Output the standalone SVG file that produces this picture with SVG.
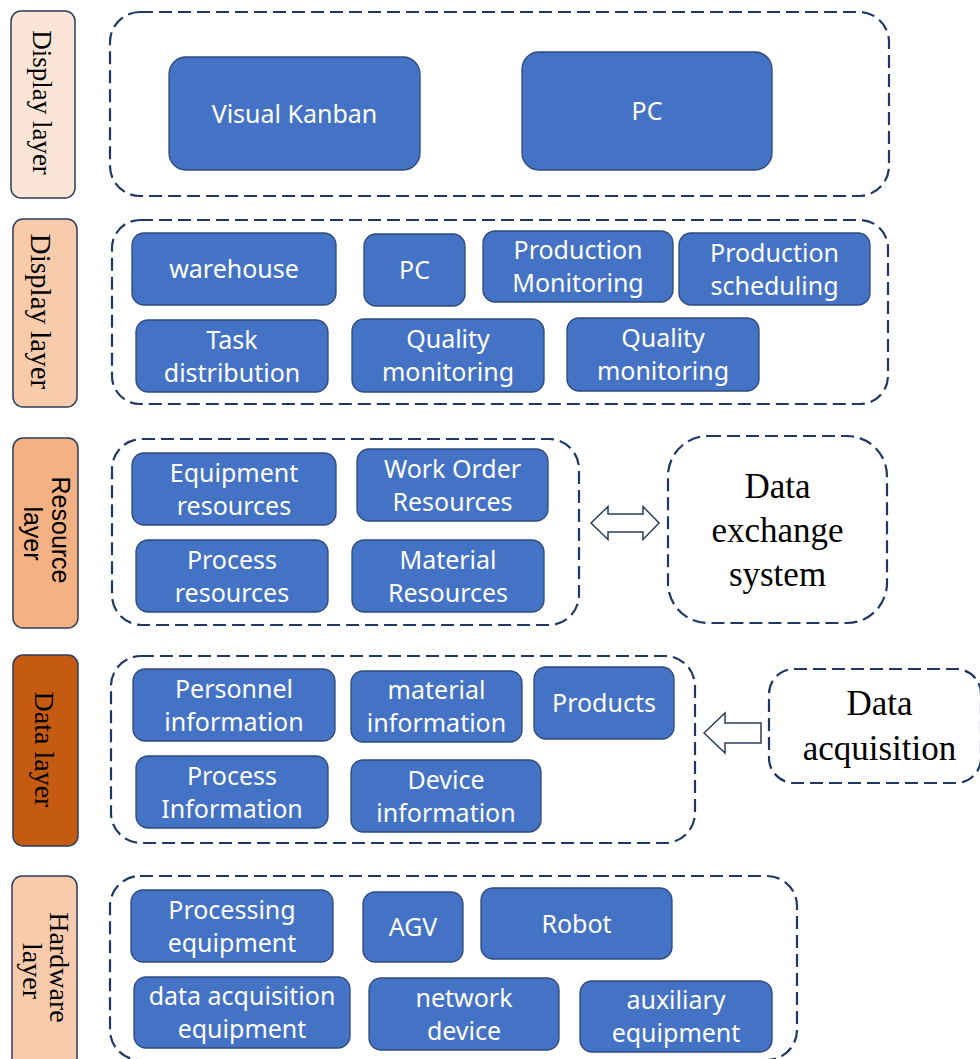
<svg xmlns="http://www.w3.org/2000/svg" width="980" height="1059" viewBox="0 0 980 1059">
  <style>
    .layer { stroke: #2E3D5A; stroke-width: 1.5; }
    .lbl { font-family: "Liberation Serif", serif; fill: #000; text-anchor: middle; }
    .lbl-sans { font-family: "Liberation Sans", sans-serif; fill: #000; text-anchor: middle; }
    .group { fill: #fff; stroke: #203864; stroke-width: 2.2; stroke-dasharray: 13 6; }
    .node rect { fill: #4472C4; stroke: #2F4A7A; stroke-width: 1.3; }
    .node text { font-family: "Noto Sans", "Open Sans", sans-serif; font-size: 25px; fill: #fff; text-anchor: middle; }
    .big { font-family: "Liberation Serif", serif; font-size: 35px; fill: #000; text-anchor: middle; }
    .hollow { fill: #fff; stroke: #2E3D5A; stroke-width: 1.5; stroke-linejoin: miter; }
  </style>

  <!-- layer labels on the left -->
  <g id="label-display-1">
    <rect class="layer" x="11" y="11" width="64" height="187" rx="10" fill="#FBE5D6"/>
    <text class="lbl" font-size="27" transform="translate(43,102.5) rotate(90)" x="0" y="10">Display layer</text>
  </g>
  <g id="label-display-2">
    <rect class="layer" x="13" y="219" width="64" height="188" rx="10" fill="#F8CBAD"/>
    <text class="lbl" font-size="29" transform="translate(45,311.5) rotate(90)" x="0" y="14">Display layer</text>
  </g>
  <g id="label-resource">
    <rect class="layer" x="13" y="438" width="65" height="190" rx="10" fill="#F4B183"/>
    <text class="lbl-sans" font-size="25" transform="translate(45.5,533.5) rotate(90)">
      <tspan x="0" y="-6.5">Resource</tspan>
      <tspan x="0" y="21.5">layer</tspan>
    </text>
  </g>
  <g id="label-data">
    <rect class="layer" x="13" y="655" width="65" height="191" rx="10" fill="#C55A11"/>
    <text class="lbl" font-size="28" transform="translate(45.5,749.5) rotate(90)" x="0" y="10.5">Data layer</text>
  </g>
  <g id="label-hardware">
    <rect class="layer" x="12" y="876" width="65" height="195" rx="10" fill="#F8CBAD"/>
    <text class="lbl" font-size="28" transform="translate(44.5,971) rotate(90)">
      <tspan x="0" y="-5.5">Hardware</tspan>
      <tspan x="0" y="21.5">layer</tspan>
    </text>
  </g>

  <!-- dashed layer frames -->
  <g id="frames">
    <rect class="group" x="110" y="12" width="779" height="184" rx="30"/>
    <rect class="group" x="112" y="220" width="776" height="184" rx="28"/>
    <rect class="group" x="112" y="439" width="467" height="186" rx="30"/>
    <rect class="group" x="111" y="656" width="584" height="187" rx="30"/>
    <rect class="group" x="110" y="876" width="687" height="184" rx="30"/>
  </g>

  <!-- display layer -->
  <g id="n-visual-kanban" class="node">
    <rect x="169" y="57" width="251" height="113" rx="17"/>
    <text x="294.5" y="123">Visual Kanban</text>
  </g>
  <g id="n-pc-top" class="node">
    <rect x="522" y="52" width="250" height="118" rx="17"/>
    <text x="647" y="120">PC</text>
  </g>

  <!-- application layer -->
  <g id="n-warehouse" class="node">
    <rect x="132" y="233" width="204" height="72" rx="12"/>
    <text x="234" y="278">warehouse</text>
  </g>
  <g id="n-pc" class="node">
    <rect x="364" y="234" width="101" height="72" rx="12"/>
    <text x="414.5" y="279">PC</text>
  </g>
  <g id="n-production-monitoring" class="node">
    <rect x="483" y="231" width="190" height="71" rx="12"/>
    <text x="578" y="259">Production</text>
    <text x="578" y="292">Monitoring</text>
  </g>
  <g id="n-production-scheduling" class="node">
    <rect x="679" y="233" width="191" height="72" rx="12"/>
    <text x="774.5" y="261.5">Production</text>
    <text x="774.5" y="294.5">scheduling</text>
  </g>
  <g id="n-task-distribution" class="node">
    <rect x="136" y="320" width="192" height="72" rx="12"/>
    <text x="232" y="348.5">Task</text>
    <text x="232" y="381.5">distribution</text>
  </g>
  <g id="n-quality-monitoring-1" class="node">
    <rect x="352" y="319" width="192" height="73" rx="12"/>
    <text x="448" y="348">Quality</text>
    <text x="448" y="381">monitoring</text>
  </g>
  <g id="n-quality-monitoring-2" class="node">
    <rect x="567" y="318" width="192" height="73" rx="12"/>
    <text x="663" y="347">Quality</text>
    <text x="663" y="380">monitoring</text>
  </g>

  <!-- resource layer -->
  <g id="n-equipment-resources" class="node">
    <rect x="132" y="453" width="204" height="72" rx="12"/>
    <text x="234" y="481.5">Equipment</text>
    <text x="234" y="514.5">resources</text>
  </g>
  <g id="n-work-order-resources" class="node">
    <rect x="357" y="449" width="191" height="72" rx="12"/>
    <text x="452.5" y="477.5">Work Order</text>
    <text x="452.5" y="510.5">Resources</text>
  </g>
  <g id="n-process-resources" class="node">
    <rect x="136" y="540" width="192" height="72" rx="12"/>
    <text x="232" y="568.5">Process</text>
    <text x="232" y="601.5">resources</text>
  </g>
  <g id="n-material-resources" class="node">
    <rect x="352" y="540" width="192" height="72" rx="12"/>
    <text x="448" y="568.5">Material</text>
    <text x="448" y="601.5">Resources</text>
  </g>

  <g id="n-data-exchange">
    <rect class="group" x="668" y="436" width="219" height="187" rx="40"/>
    <text class="big" x="777.5" y="498">Data</text>
    <text class="big" x="777.5" y="542">exchange</text>
    <text class="big" x="777.5" y="586">system</text>
  </g>

  <!-- data layer -->
  <g id="n-personnel-information" class="node">
    <rect x="133" y="669" width="202" height="72" rx="12"/>
    <text x="234" y="697.5">Personnel</text>
    <text x="234" y="730.5">information</text>
  </g>
  <g id="n-material-information" class="node">
    <rect x="351" y="671" width="171" height="71" rx="12"/>
    <text x="436.5" y="699">material</text>
    <text x="436.5" y="732">information</text>
  </g>
  <g id="n-products" class="node">
    <rect x="534" y="667" width="140" height="72" rx="12"/>
    <text x="604" y="712">Products</text>
  </g>
  <g id="n-process-information" class="node">
    <rect x="136" y="756" width="192" height="72" rx="12"/>
    <text x="232" y="784.5">Process</text>
    <text x="232" y="817.5">Information</text>
  </g>
  <g id="n-device-information" class="node">
    <rect x="351" y="760" width="190" height="72" rx="12"/>
    <text x="446" y="788.5">Device</text>
    <text x="446" y="821.5">information</text>
  </g>

  <g id="n-data-acquisition">
    <rect class="group" x="769" y="669" width="212" height="114" rx="25"/>
    <text class="big" x="879.5" y="715">Data</text>
    <text class="big" x="879.5" y="760">acquisition</text>
  </g>

  <!-- hardware layer -->
  <g id="n-processing-equipment" class="node">
    <rect x="131" y="890" width="202" height="72" rx="12"/>
    <text x="232" y="918.5">Processing</text>
    <text x="232" y="951.5">equipment</text>
  </g>
  <g id="n-agv" class="node">
    <rect x="363" y="892" width="100" height="70" rx="12"/>
    <text x="413" y="936">AGV</text>
  </g>
  <g id="n-robot" class="node">
    <rect x="481" y="888" width="191" height="71" rx="12"/>
    <text x="576.5" y="932.5">Robot</text>
  </g>
  <g id="n-data-acquisition-equipment" class="node">
    <rect x="134" y="977" width="216" height="71" rx="12"/>
    <text x="242" y="1005">data acquisition</text>
    <text x="242" y="1038">equipment</text>
  </g>
  <g id="n-network-device" class="node">
    <rect x="369" y="978" width="190" height="72" rx="12"/>
    <text x="464" y="1006.5">network</text>
    <text x="464" y="1039.5">device</text>
  </g>
  <g id="n-auxiliary-equipment" class="node">
    <rect x="580" y="981" width="192" height="71" rx="12"/>
    <text x="676" y="1009">auxiliary</text>
    <text x="676" y="1042">equipment</text>
  </g>

  <!-- connectors: hollow block arrows -->
  <g id="connectors">
    <polygon class="hollow" points="591,523 608,506.5 608,514 643,514 643,506.5 659,523 643,539.5 643,532 608,532 608,539.5"/>
    <polygon class="hollow" points="704,733 725,713 725,723 761,723 761,743 725,743 725,753"/>
  </g>
</svg>
